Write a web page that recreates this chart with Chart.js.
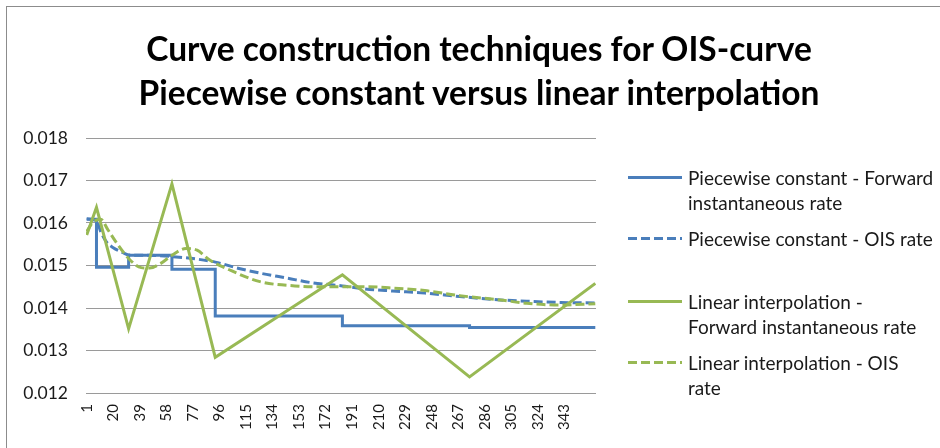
<!DOCTYPE html>
<html>
<head>
<meta charset="utf-8">
<script src="https://cdn.jsdelivr.net/npm/chart.js@4.4.1/dist/chart.umd.min.js"></script>
<style>
    html, body { margin: 0; padding: 0; background: #fff; overflow: hidden; }
    #wrap { position: relative; width: 940px; height: 448px; }
    #frame { position: absolute; left: 6px; top: 6px; width: 1000px; height: 1000px; border: 1px solid #8c8c8c; box-sizing: border-box; }
    #chart { position: absolute; left: 0; top: 0; }
    #title { position: absolute; left: 0; top: 26px; width: 958px; text-align: center; font-family: Lato; font-weight: bold; font-size: 33.5px; line-height: 44px; color: #000; }
    #legend { position: absolute; left: 0; top: 0; font-family: Lato; font-size: 19px; color: #1a1a1a; }
    .legend-item { position: absolute; left: 628px; display: flex; align-items: flex-start; }
    .legend-item svg { flex: none; }
    .legend-item .txt { margin-left: 6px; line-height: 25px; white-space: nowrap; }
</style>
</head>
<body>
<div id="wrap">
    <div id="frame"></div>
    <canvas id="chart" width="940" height="448"></canvas>
    <div id="title"></div>
    <div id="legend"></div>
</div>
<script>
// Chart data
const titleLines = ['Curve construction techniques for OIS-curve', 'Piecewise constant versus linear interpolation'];
const dayTicks = [1, 20, 39, 58, 77, 96, 115, 134, 153, 172, 191, 210, 229, 248, 267, 286, 305, 324, 343];

const pcFwdDays = [1, 8, 31, 62, 93, 184, 275, 365];
const pcFwdRates = [0.01609, 0.01496, 0.01524, 0.01491, 0.01381, 0.01358, 0.01354, 0.01354];

const pcOisDays = [1, 8, 11, 15, 20, 27, 31, 45, 62, 80, 93, 110, 125, 145, 161, 184, 200, 220, 243, 268, 297, 316, 340, 365];
const pcOisRates = [0.0161, 0.01605, 0.0158, 0.01556, 0.01542, 0.0153, 0.01525, 0.01524, 0.01521, 0.01515, 0.01508, 0.01493, 0.01482, 0.0147, 0.0146, 0.01452, 0.01445, 0.0144, 0.01435, 0.01427, 0.01419, 0.01416, 0.01413, 0.01412];

const liFwdDays = [1, 8, 31, 62, 93, 184, 275, 365];
const liFwdRates = [0.01572, 0.01637, 0.01351, 0.01692, 0.01284, 0.01478, 0.01238, 0.01458];

const liOisDays = [1, 5, 11, 16, 22, 32, 40, 46, 54, 62, 72, 80, 89, 103, 125, 150, 175, 200, 220, 243, 268, 297, 316, 339, 365];
const liOisRates = [0.0158, 0.016, 0.01609, 0.01585, 0.01555, 0.01513, 0.01495, 0.01494, 0.01505, 0.01524, 0.0154, 0.01536, 0.01513, 0.0149, 0.01462, 0.01452, 0.0145, 0.0145, 0.01447, 0.01441, 0.01429, 0.01419, 0.01411, 0.01407, 0.0141];

const seriesNames = [
    ['Piecewise constant - Forward', 'instantaneous rate'],
    ['Piecewise constant - OIS rate'],
    ['Linear interpolation -', 'Forward instantaneous rate'],
    ['Linear interpolation - OIS', 'rate']
];

const BLUE = '#4a7ebb';
const GREEN = '#98b954';
const DASH = [9, 4];
const legendTops = [165, 226, 289, 350];

function toPoints(days, rates) {
    return days.map((d, i) => ({ x: d, y: rates[i] }));
}

function buildLegend(datasets) {
    const legend = document.getElementById('legend');
    datasets.forEach((ds, i) => {
        const item = document.createElement('div');
        item.className = 'legend-item';
        item.style.top = legendTops[i] + 'px';
        const dash = ds.borderDash ? ' stroke-dasharray="' + ds.borderDash.join(' ') + '"' : '';
        item.innerHTML = '<svg width="54" height="25"><line x1="0" y1="12.5" x2="54" y2="12.5" stroke="' +
            ds.borderColor + '" stroke-width="3"' + dash + '/></svg>' +
            '<div class="txt">' + seriesNames[i].join('<br>') + '</div>';
        legend.appendChild(item);
    });
}

document.getElementById('title').innerHTML = titleLines.join('<br>');

const datasets = [
    { label: seriesNames[0].join(' '), data: toPoints(pcFwdDays, pcFwdRates), borderColor: BLUE, stepped: 'before', order: 4 },
    { label: seriesNames[1].join(' '), data: toPoints(pcOisDays, pcOisRates), borderColor: BLUE, borderDash: DASH, cubicInterpolationMode: 'monotone', order: 3 },
    { label: seriesNames[2].join(' '), data: toPoints(liFwdDays, liFwdRates), borderColor: GREEN, order: 2 },
    { label: seriesNames[3].join(' '), data: toPoints(liOisDays, liOisRates), borderColor: GREEN, borderDash: DASH, cubicInterpolationMode: 'monotone', order: 1 }
];
datasets.forEach(ds => {
    ds.borderWidth = 3;
    ds.pointRadius = 0;
    ds.fill = false;
});

new Chart(document.getElementById('chart').getContext('2d'), {
    type: 'line',
    data: { datasets: datasets },
    options: {
        responsive: false,
        animation: false,
        devicePixelRatio: 1,
        layout: { padding: { top: 138, right: 344, left: 0, bottom: 0 } },
        plugins: {
            legend: { display: false },
            title: { display: false },
            tooltip: { enabled: false }
        },
        scales: {
            x: {
                type: 'linear',
                min: 0.5,
                max: 365.5,
                grid: { display: false, drawTicks: false },
                border: { display: false },
                afterBuildTicks: function(scale) { scale.ticks = dayTicks.map(v => ({ value: v })); },
                afterFit: function(scale) { scale.height = 55; },
                ticks: {
                    autoSkip: false,
                    minRotation: 90,
                    maxRotation: 90,
                    padding: 11,
                    color: '#1a1a1a',
                    font: { family: 'Lato', size: 15 },
                    callback: function(value) { return String(value); }
                }
            },
            y: {
                min: 0.012,
                max: 0.018,
                grid: { color: '#9a9a9a', drawTicks: false },
                border: { display: false },
                afterFit: function(scale) { scale.width = 86; },
                ticks: {
                    stepSize: 0.001,
                    padding: 18,
                    color: '#1a1a1a',
                    font: { family: 'Lato', size: 17.5 },
                    callback: function(value) { return value.toFixed(3); }
                }
            }
        }
    }
});

buildLegend(datasets);
</script>
</body>
</html>
